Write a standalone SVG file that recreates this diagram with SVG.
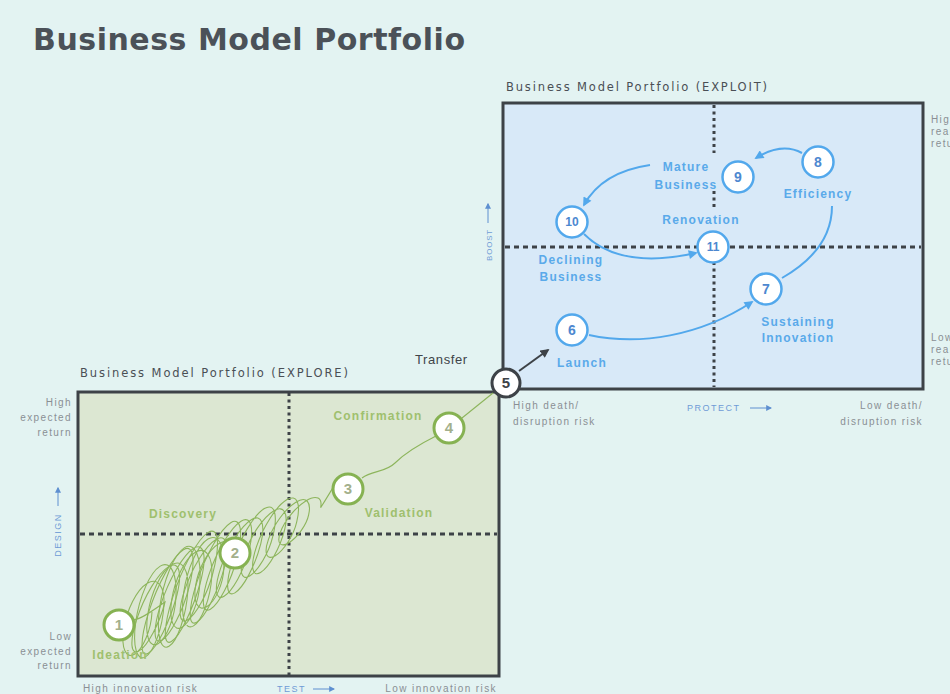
<svg xmlns="http://www.w3.org/2000/svg" width="950" height="694" viewBox="0 0 950 694">
<defs>
<marker id="ab" viewBox="0 0 10 10" refX="8" refY="5" markerWidth="10" markerHeight="9" markerUnits="userSpaceOnUse" orient="auto"><path d="M0,0 L10,5 L0,10 z" fill="#52a8ec"/></marker>
<marker id="ad" viewBox="0 0 10 10" refX="8" refY="5" markerWidth="10" markerHeight="9" markerUnits="userSpaceOnUse" orient="auto"><path d="M0,0 L10,5 L0,10 z" fill="#3d4247"/></marker>
<marker id="ax" viewBox="0 0 10 10" refX="8" refY="5" markerWidth="6" markerHeight="6" markerUnits="userSpaceOnUse" orient="auto"><path d="M0,0 L10,5 L0,10 z" fill="#5e8fd0"/></marker>
</defs>
<style>
text{font-family:"Liberation Sans",Arial,sans-serif}
.title{font-family:"DejaVu Sans",sans-serif;font-size:30px;font-weight:bold;fill:#4b5158}
.sub{font-family:"DejaVu Sans",sans-serif;font-size:11.5px;fill:#4a4f55}
.gl{fill:#9fc06e;font-weight:bold;font-size:12px;letter-spacing:1.2px;text-anchor:middle}
.bl{fill:#5aaaea;font-weight:bold;font-size:12px;letter-spacing:1.2px;text-anchor:middle}
.ax{fill:#8a8f94;font-size:10px;letter-spacing:1.4px}
.axb{fill:#6f9bd6;font-size:9px;letter-spacing:1.5px}
.gc{fill:#fff;stroke:#86b252;stroke-width:3}
.bc{fill:#fff;stroke:#52a8ec;stroke-width:2.5}
.gn{fill:#a3b08c;font-weight:bold;font-size:15px;text-anchor:middle}
.bn{fill:#4d88d0;font-weight:bold;font-size:14px;text-anchor:middle}
.box{stroke:#3d4247;stroke-width:3}
.hd{stroke:#3d4247;stroke-width:3;stroke-dasharray:5 4;fill:none}
.vd{stroke:#3d4247;stroke-width:3;stroke-dasharray:3 3.5;fill:none}
.bar{fill:none;stroke:#52a8ec;stroke-width:2}
.scr{fill:none;stroke:#8db55c;stroke-width:1.1}
</style>
<rect x="0" y="0" width="950" height="694" fill="#e3f3f2"/>
<text class="title" x="33" y="50" textLength="432" lengthAdjust="spacing">Business Model Portfolio</text>

<g id="explore-portfolio">
<text class="sub" x="80" y="377" textLength="268" lengthAdjust="spacing">Business Model Portfolio (EXPLORE)</text>
<rect class="box" x="78" y="392" width="421" height="284" fill="#dce7d2"/>
<line class="hd" x1="80" y1="534" x2="497" y2="534"/>
<line class="vd" x1="289" y1="393" x2="289" y2="675"/>
<text class="ax" x="72" y="406" text-anchor="end">High</text>
<text class="ax" x="72" y="421" text-anchor="end">expected</text>
<text class="ax" x="72" y="436" text-anchor="end">return</text>
<text class="ax" x="72" y="640" text-anchor="end">Low</text>
<text class="ax" x="72" y="655" text-anchor="end">expected</text>
<text class="ax" x="72" y="669" text-anchor="end">return</text>
<text class="axb" transform="translate(61,535) rotate(-90)" text-anchor="middle">DESIGN</text>
<line x1="58" y1="506" x2="58" y2="488" stroke="#5e8fd0" stroke-width="1" marker-end="url(#ax)"/>
<text class="ax" x="83" y="692">High innovation risk</text>
<text class="axb" x="277" y="692">TEST</text>
<line x1="313" y1="689" x2="334" y2="689" stroke="#5e8fd0" stroke-width="1" marker-end="url(#ax)"/>
<text class="ax" x="497" y="692" text-anchor="end">Low innovation risk</text>
</g>

<g id="exploit-portfolio">
<text class="sub" x="506" y="91" textLength="261" lengthAdjust="spacing">Business Model Portfolio (EXPLOIT)</text>
<rect class="box" x="503" y="103" width="420" height="286" fill="#d8e9f8"/>
<line class="hd" x1="505" y1="247" x2="921" y2="247"/>
<path class="vd" d="M714,105 V153 M714,191 V208 M714,262 V387"/>
<text class="axb" transform="translate(492,245) rotate(-90)" text-anchor="middle" style="font-size:8px;letter-spacing:0.8px">BOOST</text>
<line x1="488" y1="223" x2="488" y2="204" stroke="#5e8fd0" stroke-width="1" marker-end="url(#ax)"/>
<text class="ax" x="513" y="409">High death/</text>
<text class="ax" x="513" y="425">disruption risk</text>
<text class="axb" x="687" y="411">PROTECT</text>
<line x1="750" y1="408" x2="771" y2="408" stroke="#5e8fd0" stroke-width="1" marker-end="url(#ax)"/>
<text class="ax" x="923" y="409" text-anchor="end">Low death/</text>
<text class="ax" x="923" y="425" text-anchor="end">disruption risk</text>
<text class="ax" x="931" y="123">High</text>
<text class="ax" x="931" y="135">realized</text>
<text class="ax" x="931" y="147">return</text>
<text class="ax" x="931" y="341">Low</text>
<text class="ax" x="931" y="353">realized</text>
<text class="ax" x="931" y="365">return</text>
</g>

<text x="415" y="364" style="font-size:13px;fill:#3f4449;letter-spacing:0.6px">Transfer</text>

<g id="connectors">
<path class="scr" vector-effect="non-scaling-stroke" transform="matrix(0.855,-0.518,-0.28,0.96,165,602)" d="M-38.2,-1.9 c12,6 26,3 38.2,1.9 c1.23,23.2 -6.69,42 -16.5,42 c-9.81,0 -17.73,-18.8 -16.5,-42 c1.23,-23.2 11.22,-42 23.5,-42 c12.28,0 22.27,18.8 23.5,42 c1.23,28.7 -6.69,52 -16.5,52 c-9.81,0 -17.73,-23.3 -16.5,-52 c1.23,-28.7 11.22,-52 23.5,-52 c12.28,0 22.27,23.3 23.5,52 c1.23,25.4 -6.69,46 -16.5,46 c-9.81,0 -17.73,-20.6 -16.5,-46 c1.23,-25.4 11.22,-46 23.5,-46 c12.28,0 22.27,20.6 23.5,46 c1.23,30.4 -6.69,55 -16.5,55 c-9.81,0 -17.73,-24.6 -16.5,-55 c1.23,-30.4 11.22,-55 23.5,-55 c12.28,0 22.27,24.6 23.5,55 c1.23,22.1 -6.69,40 -16.5,40 c-9.81,0 -17.73,-17.9 -16.5,-40 c1.23,-22.1 11.22,-40 23.5,-40 c12.28,0 22.27,17.9 23.5,40 c1.23,27.6 -6.69,50 -16.5,50 c-9.81,0 -17.73,-22.4 -16.5,-50 c1.23,-27.6 11.22,-50 23.5,-50 c12.28,0 22.27,22.4 23.5,50 c1.23,24.3 -6.69,44 -16.5,44 c-9.81,0 -17.73,-19.7 -16.5,-44 c1.23,-24.3 11.22,-44 23.5,-44 c12.28,0 22.27,19.7 23.5,44 c1.23,21 -6.69,38 -16.5,38 c-9.81,0 -17.73,-17 -16.5,-38 c1.23,-21 11.22,-38 23.5,-38 c12.28,0 22.27,17 23.5,38 c1.23,23.2 -6.69,42 -16.5,42 c-9.81,0 -17.73,-18.8 -16.5,-42 c1.23,-23.2 11.22,-42 23.5,-42 c12.28,0 22.27,18.8 23.5,42 c1.23,17.7 -6.69,32 -16.5,32 c-9.81,0 -17.73,-14.3 -16.5,-32 c1.23,-17.7 11.22,-32 23.5,-32 c12.28,0 22.27,14.3 23.5,32 c1.23,19.9 -6.69,36 -16.5,36 c-9.81,0 -17.73,-16.1 -16.5,-36 c1.23,-19.9 11.22,-36 23.5,-36 c12.28,0 22.27,16.1 23.5,36 c1.23,14.4 -6.69,26 -16.5,26 c-9.81,0 -17.73,-11.6 -16.5,-26 c1.23,-14.4 11.22,-26 23.5,-26 c12.28,0 22.27,11.6 23.5,26 c1.23,11 -6.69,20 -16.5,20 c-9.81,0 -17.73,-9 -16.5,-20 c1.23,-11 11.22,-20 23.5,-20 c12.28,0 22.27,9 23.5,20 c5,-8 8,-14 8.95,-15.3"/>
<path class="scr" vector-effect="non-scaling-stroke" transform="matrix(0.855,-0.518,-0.1,0.99,152,612)" d="M0,0 c1.23,18.8 -6.69,34 -16.5,34 c-9.81,0 -17.73,-15.2 -16.5,-34 c1.23,-18.8 11.22,-34 23.5,-34 c12.28,0 22.27,15.2 23.5,34 c1.23,24.3 -6.69,44 -16.5,44 c-9.81,0 -17.73,-19.7 -16.5,-44 c1.23,-24.3 11.22,-44 23.5,-44 c12.28,0 22.27,19.7 23.5,44 c1.23,21 -6.69,38 -16.5,38 c-9.81,0 -17.73,-17 -16.5,-38 c1.23,-21 11.22,-38 23.5,-38 c12.28,0 22.27,17 23.5,38 c1.23,26.5 -6.69,48 -16.5,48 c-9.81,0 -17.73,-21.5 -16.5,-48 c1.23,-26.5 11.22,-48 23.5,-48 c12.28,0 22.27,21.5 23.5,48 c1.23,19.9 -6.69,36 -16.5,36 c-9.81,0 -17.73,-16.1 -16.5,-36 c1.23,-19.9 11.22,-36 23.5,-36 c12.28,0 22.27,16.1 23.5,36 c1.23,23.2 -6.69,42 -16.5,42 c-9.81,0 -17.73,-18.8 -16.5,-42 c1.23,-23.2 11.22,-42 23.5,-42 c12.28,0 22.27,18.8 23.5,42 c1.23,16.6 -6.69,30 -16.5,30 c-9.81,0 -17.73,-13.4 -16.5,-30 c1.23,-16.6 11.22,-30 23.5,-30 c12.28,0 22.27,13.4 23.5,30"/>
<path class="scr" d="M362,478 C372,470 385,473 395,463 S420,444 436,436"/>
<path class="scr" d="M462,418 L493,393"/>
<path d="M519,371 L548,350" fill="none" stroke="#3d4247" stroke-width="2" marker-end="url(#ad)"/>
<path class="bar" d="M589,335 C640,346 700,336 752,302" marker-end="url(#ab)"/>
<path class="bar" d="M782,278 C810,262 832,240 832,206"/>
<path class="bar" d="M802,153 Q782,142 756,158" marker-end="url(#ab)"/>
<path class="bar" d="M650,165 Q602,172 584,205" marker-end="url(#ab)"/>
<path class="bar" d="M584,234 Q620,270 696,253" marker-end="url(#ab)"/>
</g>

<g id="node-1"><circle class="gc" cx="119" cy="625" r="15"/><text class="gn" x="119" y="630">1</text><text class="gl" x="120" y="659">Ideation</text></g>
<g id="node-2"><circle class="gc" cx="235" cy="553" r="15"/><text class="gn" x="235" y="558">2</text><text class="gl" x="183" y="518">Discovery</text></g>
<g id="node-3"><circle class="gc" cx="348" cy="489" r="15"/><text class="gn" x="348" y="494">3</text><text class="gl" x="399" y="517">Validation</text></g>
<g id="node-4"><circle class="gc" cx="449" cy="428" r="15"/><text class="gn" x="449" y="433">4</text><text class="gl" x="378" y="420">Confirmation</text></g>
<g id="node-5"><circle cx="506" cy="383" r="14" fill="#fff" stroke="#3d4247" stroke-width="3"/><text x="506" y="388" text-anchor="middle" style="font-size:15px;font-weight:bold;fill:#3d4247">5</text></g>
<g id="node-6"><circle class="bc" cx="572" cy="330" r="15.5"/><text class="bn" x="572" y="335">6</text><text class="bl" x="582" y="367">Launch</text></g>
<g id="node-7"><circle class="bc" cx="766" cy="289" r="15.5"/><text class="bn" x="766" y="294">7</text><text class="bl" x="798" y="326">Sustaining</text><text class="bl" x="798" y="342">Innovation</text></g>
<g id="node-8"><circle class="bc" cx="818" cy="162" r="15.5"/><text class="bn" x="818" y="167">8</text><text class="bl" x="818" y="198">Efficiency</text></g>
<g id="node-9"><circle class="bc" cx="738" cy="177" r="15.5"/><text class="bn" x="738" y="182">9</text><text class="bl" x="686" y="171">Mature</text><text class="bl" x="686" y="189">Business</text></g>
<g id="node-10"><circle class="bc" cx="572" cy="222" r="15.5"/><text class="bn" x="572" y="226" style="font-size:12px">10</text><text class="bl" x="571" y="264">Declining</text><text class="bl" x="571" y="281">Business</text></g>
<g id="node-11"><circle class="bc" cx="713" cy="247" r="15.5"/><text class="bn" x="713" y="251" style="font-size:12px">11</text><text class="bl" x="701" y="224">Renovation</text></g>
</svg>
